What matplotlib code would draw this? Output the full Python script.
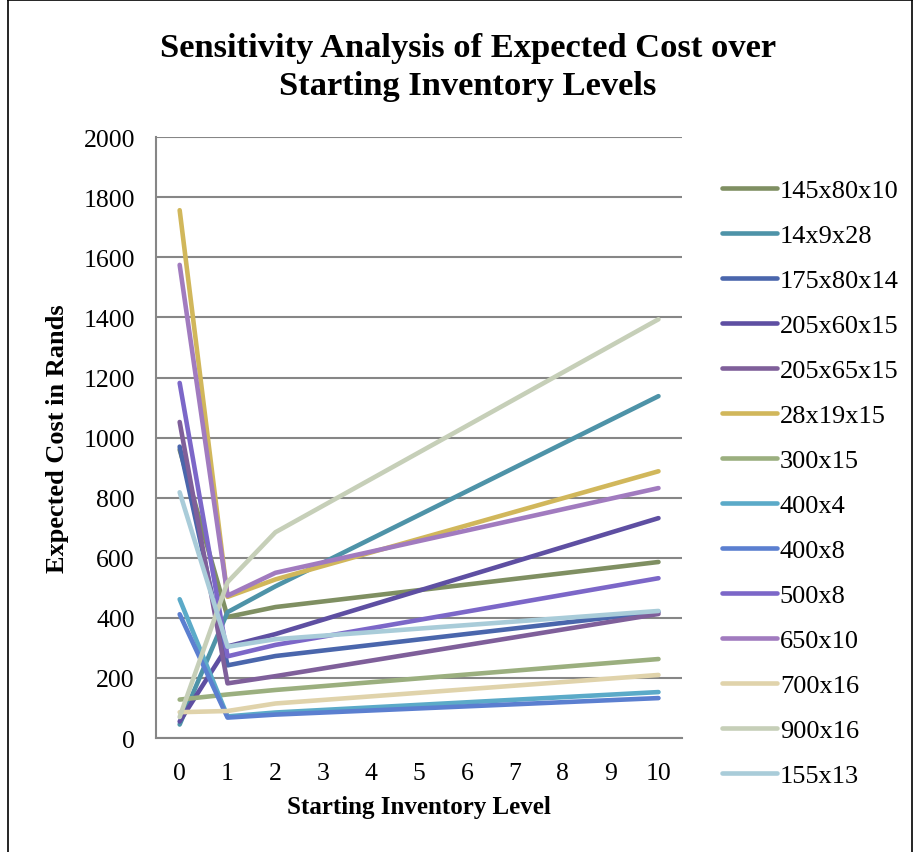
import matplotlib.pyplot as plt
from matplotlib.lines import Line2D

# Starting inventory levels where values were read
levels = [0, 1, 2, 10]

series_names = ['145x80x10', '14x9x28', '175x80x14', '205x60x15', '205x65x15',
                '28x19x15', '300x15', '400x4', '400x8', '500x8', '650x10',
                '700x16', '900x16', '155x13']

cost_145x80x10 = [960, 403, 436, 586]
cost_14x9x28 = [45, 419, 505, 1138]
cost_175x80x14 = [970, 242, 273, 420]
cost_205x60x15 = [55, 305, 346, 732]
cost_205x65x15 = [1052, 182, 206, 413]
cost_28x19x15 = [1757, 470, 528, 888]
cost_300x15 = [128, 145, 160, 263]
cost_400x4 = [462, 72, 85, 153]
cost_400x8 = [412, 68, 78, 133]
cost_500x8 = [1182, 272, 310, 532]
cost_650x10 = [1575, 474, 550, 832]
cost_700x16 = [86, 90, 115, 210]
cost_900x16 = [70, 519, 685, 1394]
cost_155x13 = [818, 304, 329, 423]

colors = ['#7F8F62', '#4E93A8', '#4A66AC', '#5E4FA2', '#7F5F9A', '#D1B75B',
          '#9BAF7F', '#5BAAC8', '#5B7FD0', '#7C67C8', '#A17BBF', '#E0D3AB',
          '#C6CFB8', '#A9CCD9']

all_costs = [cost_145x80x10, cost_14x9x28, cost_175x80x14, cost_205x60x15,
             cost_205x65x15, cost_28x19x15, cost_300x15, cost_400x4, cost_400x8,
             cost_500x8, cost_650x10, cost_700x16, cost_900x16, cost_155x13]

plt.rcParams['font.family'] = ['Liberation Serif', 'DejaVu Serif']

fig = plt.figure(figsize=(9.16, 8.53), dpi=100)
ax = fig.add_axes([0.170, 0.1336, 0.575, 0.7044])

for name, vals, c in zip(series_names, all_costs, colors):
    ax.plot(levels, vals, color=c, linewidth=3.3, solid_capstyle='round',
            solid_joinstyle='round', label=name)

ax.set_xlim(-0.5, 10.5)
ax.set_ylim(0, 2000)
ax.set_xticks(range(0, 11))
ax.set_yticks(range(0, 2001, 200))
ax.tick_params(axis='both', length=0, labelsize=18.5)
ax.tick_params(axis='x', pad=17)
ax.tick_params(axis='y', pad=15)
ax.grid(axis='y', color='#868686', linewidth=1.5)
ax.set_axisbelow(True)
for side in ['top', 'right']:
    ax.spines[side].set_visible(False)
for side in ['left', 'bottom']:
    ax.spines[side].set_color('#868686')
    ax.spines[side].set_linewidth(1.5)

ax.set_xlabel('Starting Inventory Level', fontsize=18, fontweight='bold', labelpad=8)
ax.set_ylabel('Expected Cost in Rands', fontsize=19, fontweight='bold', labelpad=10)

fig.text(0.511, 0.921, 'Sensitivity Analysis of Expected Cost over\nStarting Inventory Levels',
         ha='center', va='center', fontsize=24.8, fontweight='bold', linespacing=1.32)

handles = [Line2D([], [], color=c, linewidth=3.3, solid_capstyle='round') for c in colors]
fig.legend(handles, series_names, loc='upper left', bbox_to_anchor=(0.788, 0.789),
           frameon=False, fontsize=19, handlelength=2.1, handletextpad=0.1,
           labelspacing=0.815, borderaxespad=0, borderpad=0)

# chart border
for xs, ys in [([0.009, 0.009], [0, 0.999]), ([0.009, 0.996], [0.999, 0.999]),
               ([0.996, 0.996], [0, 0.999])]:
    fig.add_artist(Line2D(xs, ys, color='black', linewidth=1.2, transform=fig.transFigure))

fig.savefig('out.png', dpi=100)
